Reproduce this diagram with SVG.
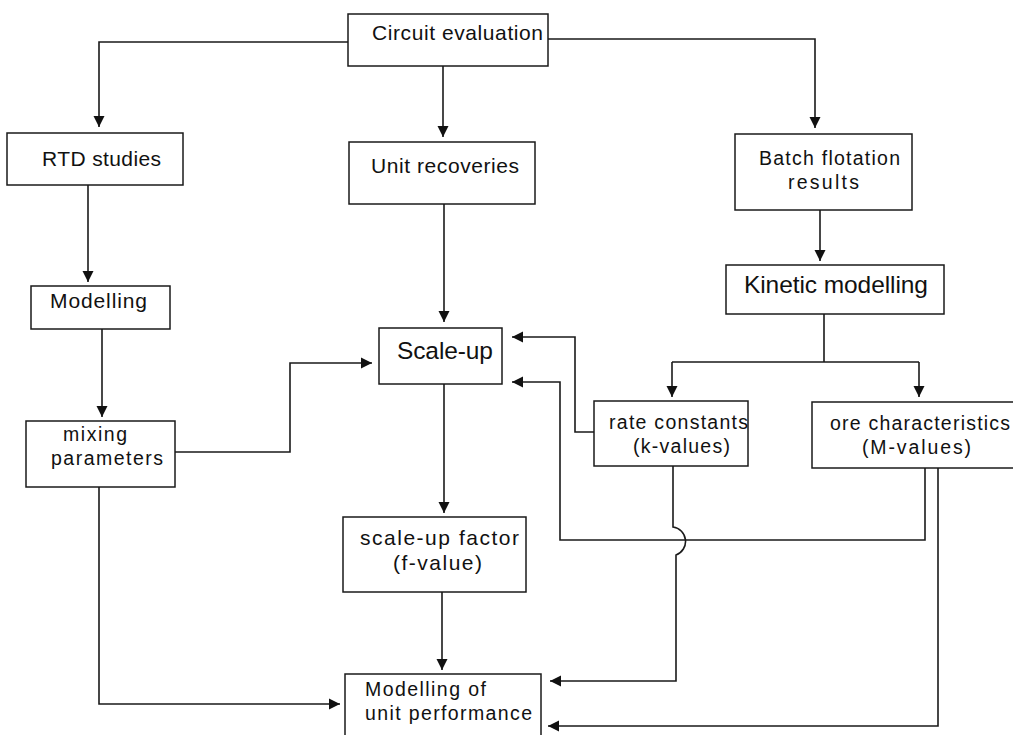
<svg xmlns="http://www.w3.org/2000/svg" width="1013" height="735" viewBox="0 0 1013 735">
<style>
.box{fill:#fff;stroke:#1a1a1a;stroke-width:1.5}
.t{font-family:"Liberation Sans",Arial,sans-serif;font-size:21px;fill:#111}
.s{font-size:19.5px}
.big{font-size:24.5px}
.c{fill:none;stroke:#1a1a1a;stroke-width:1.6}
</style>
<defs>
<marker id="ah" viewBox="0 0 10 10" refX="10" refY="5" markerWidth="11" markerHeight="12" markerUnits="userSpaceOnUse" orient="auto">
<path d="M0,0 L10,5 L0,10 z" fill="#111"/>
</marker>
</defs>
<rect width="1013" height="735" fill="#fff"/>
<g id="connectors">
<path class="c" d="M348,42 H99 V127" marker-end="url(#ah)"/>
<path class="c" d="M443,66 V137" marker-end="url(#ah)"/>
<path class="c" d="M548,39 H815 V128" marker-end="url(#ah)"/>
<path class="c" d="M88,185 V282" marker-end="url(#ah)"/>
<path class="c" d="M102,329 V417" marker-end="url(#ah)"/>
<path class="c" d="M175,452 H290 V363 H372" marker-end="url(#ah)"/>
<path class="c" d="M444,204 V322" marker-end="url(#ah)"/>
<path class="c" d="M820,210 V261" marker-end="url(#ah)"/>
<path class="c" d="M824,314 V362 M672,362 H919"/>
<path class="c" d="M672,362 V397" marker-end="url(#ah)"/>
<path class="c" d="M919,362 V397" marker-end="url(#ah)"/>
<path class="c" d="M594,432 H575 V337 H512" marker-end="url(#ah)"/>
<path class="c" d="M925,468 V540 H560 V382 H512" marker-end="url(#ah)"/>
<path class="c" d="M673,466 V527 A14.5,14.5 0 0 1 676,555 V681 H550" marker-end="url(#ah)"/>
<path class="c" d="M938,468 V726 H548" marker-end="url(#ah)"/>
<path class="c" d="M99,487 V704 H340" marker-end="url(#ah)"/>
<path class="c" d="M444,384 V513" marker-end="url(#ah)"/>
<path class="c" d="M442,592 V670" marker-end="url(#ah)"/>
</g>
<g id="circuit-evaluation">
<rect class="box" x="348" y="14" width="200" height="52"/>
<text class="t" x="372" y="40" textLength="171">Circuit evaluation</text>
</g>
<g id="rtd-studies">
<rect class="box" x="7" y="133" width="176" height="52"/>
<text class="t" x="42" y="166" textLength="119">RTD studies</text>
</g>
<g id="unit-recoveries">
<rect class="box" x="349" y="142" width="186" height="62"/>
<text class="t" x="371" y="173" textLength="148">Unit recoveries</text>
</g>
<g id="batch-flotation">
<rect class="box" x="735" y="134" width="177" height="76"/>
<text class="t s" x="759" y="165" textLength="141">Batch flotation</text>
<text class="t s" x="788" y="189" textLength="71">results</text>
</g>
<g id="modelling">
<rect class="box" x="31" y="286" width="139" height="43"/>
<text class="t" x="50" y="308" textLength="97">Modelling</text>
</g>
<g id="mixing-parameters">
<rect class="box" x="26" y="421" width="149" height="66"/>
<text class="t s" x="63" y="441" textLength="64">mixing</text>
<text class="t s" x="51" y="465" textLength="112">parameters</text>
</g>
<g id="scale-up">
<rect class="box" x="379" y="328" width="123" height="56"/>
<text class="t big" x="397" y="359" textLength="96">Scale-up</text>
</g>
<g id="kinetic-modelling">
<rect class="box" x="726" y="265" width="218" height="49"/>
<text class="t big" x="744" y="293" textLength="184">Kinetic modelling</text>
</g>
<g id="rate-constants">
<rect class="box" x="594" y="401" width="154" height="65"/>
<text class="t s" x="609" y="429" textLength="139">rate constants</text>
<text class="t s" x="633" y="453" textLength="97">(k-values)</text>
</g>
<g id="ore-characteristics">
<rect class="box" x="812" y="402" width="210" height="66"/>
<text class="t s" x="830" y="430" textLength="180">ore characteristics</text>
<text class="t s" x="862" y="454" textLength="109">(M-values)</text>
</g>
<g id="scale-up-factor">
<rect class="box" x="343" y="517" width="183" height="75"/>
<text class="t" x="360" y="545" textLength="159">scale-up factor</text>
<text class="t" x="393" y="570" textLength="89">(f-value)</text>
</g>
<g id="unit-performance">
<rect class="box" x="345" y="674" width="196" height="72"/>
<text class="t s" x="365" y="696" textLength="121">Modelling of</text>
<text class="t s" x="365" y="720" textLength="167">unit performance</text>
</g>
</svg>
